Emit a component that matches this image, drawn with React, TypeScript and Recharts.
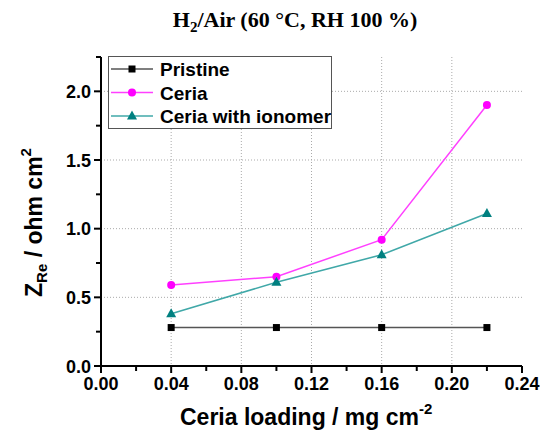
import React from 'react';
import { LineChart, Line, XAxis, YAxis, CartesianGrid } from 'recharts';

const loading = [0.04, 0.1, 0.16, 0.22];
const pristine = [0.28, 0.28, 0.28, 0.28];
const ceria = [0.59, 0.65, 0.92, 1.9];
const ionomer = [0.38, 0.61, 0.81, 1.11];

const xTicks = [0, 0.02, 0.04, 0.06, 0.08, 0.1, 0.12, 0.14, 0.16, 0.18, 0.2, 0.22, 0.24];
const xMajor = [0, 0.04, 0.08, 0.12, 0.16, 0.2, 0.24];
const yTicks = [0, 0.25, 0.5, 0.75, 1, 1.25, 1.5, 1.75, 2, 2.25];
const yMajor = [0, 0.5, 1, 1.5, 2];
const xGrid = [0.04, 0.08, 0.12, 0.16, 0.2];
const yGrid = [0.5, 1, 1.5, 2];

const data = loading.map((x, i) => ({
    x,
    pristine: pristine[i],
    ceria: ceria[i],
    ionomer: ionomer[i],
}));

const W = 540;
const H = 434;
const font = '"Liberation Sans", Arial, sans-serif';

const isMajor = (v: number, list: number[]) => list.some((m) => Math.abs(m - v) < 1e-9);

const XTick = (props: any) => {
    const { x, y, payload } = props;
    const major = isMajor(payload.value, xMajor);
    return (
        <g>
            <line x1={x} x2={x} y1={y} y2={y + (major ? 7 : 5)} stroke="#000" strokeWidth={2} />
            {major && (
                <text x={x} y={y + 24} textAnchor="middle" fontFamily={font} fontWeight="bold" fontSize={18} fill="#000">
                    {payload.value.toFixed(2)}
                </text>
            )}
        </g>
    );
};

const YTick = (props: any) => {
    const { x, y, payload } = props;
    const major = isMajor(payload.value, yMajor);
    return (
        <g>
            <line x1={x - (major ? 7 : 5)} x2={x} y1={y} y2={y} stroke="#000" strokeWidth={2} />
            {major && (
                <text x={x - 10} y={y + 6.5} textAnchor="end" fontFamily={font} fontWeight="bold" fontSize={18} fill="#000">
                    {payload.value.toFixed(1)}
                </text>
            )}
        </g>
    );
};

const square = (color: string) => (p: any) => (
    <rect key={p.index} x={p.cx - 3.5} y={p.cy - 3.5} width={7} height={7} fill={color} />
);
const circle = (color: string) => (p: any) => (
    <circle key={p.index} cx={p.cx} cy={p.cy} r={4} fill={color} />
);
const triangle = (color: string) => (p: any) => (
    <polygon key={p.index} points={`${p.cx},${p.cy - 5.5} ${p.cx - 5},${p.cy + 3.5} ${p.cx + 5},${p.cy + 3.5}`} fill={color} />
);

const series = [
    { key: 'pristine', name: 'Pristine', line: '#555555', mark: '#000000', shape: square },
    { key: 'ceria', name: 'Ceria', line: '#ff40ff', mark: '#ff00ff', shape: circle },
    { key: 'ionomer', name: 'Ceria with ionomer', line: '#40a8a8', mark: '#008080', shape: triangle },
];

export default function App() {
    return (
        <div style={{ position: 'absolute', left: 0, top: 0, width: W, height: H, background: '#fff' }}>
            <LineChart width={W} height={H} data={data} margin={{ top: 57, right: 18, bottom: 0, left: 41 }}>
                <CartesianGrid
                    stroke="#aaa"
                    strokeDasharray="1 2"
                    horizontalValues={yGrid}
                    verticalValues={xGrid}
                />
                <XAxis
                    dataKey="x"
                    type="number"
                    domain={[0, 0.24]}
                    ticks={xTicks}
                    interval={0}
                    tick={XTick}
                    tickLine={false}
                    tickSize={0}
                    tickMargin={0}
                    height={68}
                    axisLine={{ stroke: '#000', strokeWidth: 2 }}
                />
                <YAxis
                    type="number"
                    domain={[0, 2.25]}
                    ticks={yTicks}
                    interval={0}
                    tick={YTick}
                    tickLine={false}
                    tickSize={0}
                    tickMargin={0}
                    width={60}
                    axisLine={{ stroke: '#000', strokeWidth: 2 }}
                />
                {series.map((s) => (
                    <Line
                        key={s.key}
                        dataKey={s.key}
                        stroke={s.line}
                        strokeWidth={1.5}
                        dot={s.shape(s.mark)}
                        activeDot={false}
                        isAnimationActive={false}
                    />
                ))}
            </LineChart>
            <svg width={W} height={H} style={{ position: 'absolute', left: 0, top: 0, pointerEvents: 'none' }}>
                <text x={295} y={27} textAnchor="middle" fontFamily='"Liberation Serif", "Times New Roman", serif' fontWeight="bold" fontSize={22} fill="#000">
                    H<tspan fontSize={15} dy={5}>2</tspan>
                    <tspan dy={-5}>/Air (60 °C, RH 100 %)</tspan>
                </text>
                <text x={180} y={425} fontFamily={font} fontWeight="bold" fontSize={23} fill="#000">
                    Ceria loading / mg cm<tspan fontSize={15} dy={-11}>-2</tspan>
                </text>
                <text transform="translate(42,297) rotate(-90)" fontFamily={font} fontWeight="bold" fontSize={23} fill="#000">
                    Z<tspan fontSize={15} dy={5}>Re</tspan>
                    <tspan dy={-5}> / ohm cm</tspan>
                    <tspan fontSize={15} dy={-11}>2</tspan>
                </text>
                <rect x={108.5} y={56.5} width={223} height={72} fill="#fff" stroke="#555" strokeWidth={1} />
                {series.map((s, i) => {
                    const cy = 69 + i * 23.5;
                    const cx = 132;
                    return (
                        <g key={s.key}>
                            <line x1={111} x2={153} y1={cy} y2={cy} stroke={s.line} strokeWidth={1.5} />
                            {s.shape(s.mark)({ cx, cy, index: i })}
                            <text x={160} y={cy + 7} fontFamily={font} fontWeight="bold" fontSize={19} fill="#000">
                                {s.name}
                            </text>
                        </g>
                    );
                })}
            </svg>
        </div>
    );
}
